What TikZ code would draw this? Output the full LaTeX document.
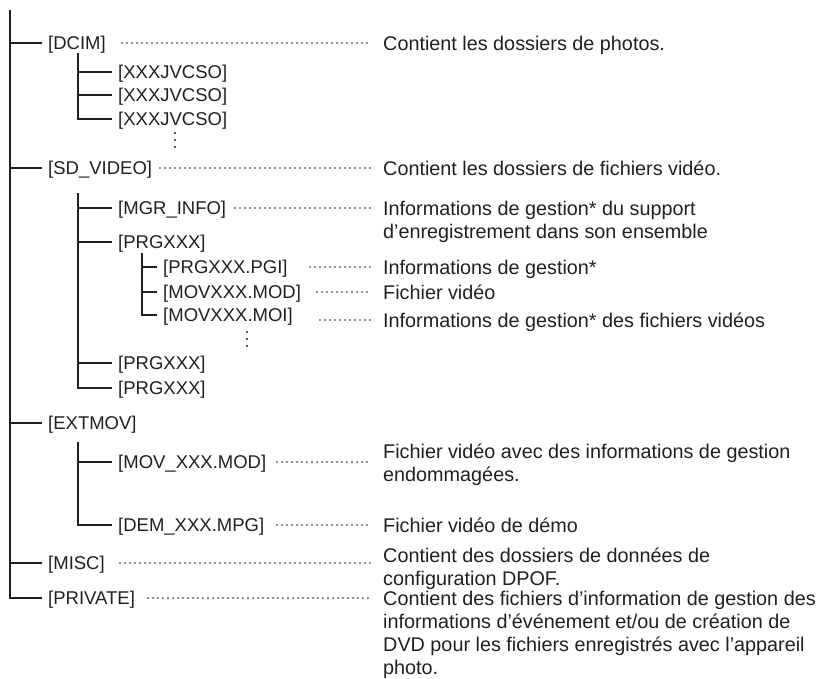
\documentclass[tikz,border=0pt]{standalone}
\usepackage{fontspec}
\setmainfont{Liberation Sans}
\definecolor{ink}{HTML}{231F20}
\begin{document}
\begin{tikzpicture}[x=1pt,y=-1pt,
  tree/.style={draw=ink, line width=2pt},
  lbl/.style={anchor=west, inner xsep=6pt, inner ysep=0pt, text height=13.2pt, text depth=0pt,
              font=\fontsize{18.5}{22}\selectfont, text=ink},
  desc/.style={anchor=base west, inner sep=0pt, align=left,
              font=\fontsize{19.8}{23}\selectfont, text=ink},
  leader/.style={draw=ink, line width=1.6pt, line cap=round, dash pattern=on 0pt off 5pt},
  vdot/.style={circle, fill=ink, inner sep=0pt, minimum size=2.2pt}]
\useasboundingbox (0,0) rectangle (821,678);

% ---- level 1 labels
\coordinate (root) at (10,10);
\node[lbl] (dcim)    at (42,43)  {[DCIM]};
\node[lbl] (sdvideo) at (42,168) {[SD\_VIDEO]};
\node[lbl] (extmov)  at (42,423) {[EXTMOV]};
\node[lbl] (misc)    at (42,563) {[MISC]};
\node[lbl] (private) at (42,598) {[PRIVATE]};

% ---- DCIM children
\coordinate (dtop) at (78,53);
\node[lbl] (jvc1) at (112,72)  {[XXXJVCSO]};
\node[lbl] (jvc2) at (112,95)  {[XXXJVCSO]};
\node[lbl] (jvc3) at (112,119) {[XXXJVCSO]};
\node[vdot] (dv1) at (175,133) {};
\node[vdot] (dv2) at (175,140) {};
\node[vdot] (dv3) at (175,147) {};

% ---- SD_VIDEO children
\coordinate (stop) at (78,193);
\node[lbl] (mgr)  at (112,208) {[MGR\_INFO]};
\node[lbl] (prg1) at (112,242) {[PRGXXX]};
\coordinate (ptop) at (142,253);
\node[lbl] (pgi) at (157,267) {[PRGXXX.PGI]};
\node[lbl] (mod) at (157,292) {[MOVXXX.MOD]};
\node[lbl] (moi) at (157,315) {[MOVXXX.MOI]};
\node[vdot] (pv1) at (247,332) {};
\node[vdot] (pv2) at (247,339) {};
\node[vdot] (pv3) at (247,346) {};
\node[lbl] (prg2) at (112,363) {[PRGXXX]};
\node[lbl] (prg3) at (112,388) {[PRGXXX]};

% ---- EXTMOV children
\coordinate (etop) at (78,442);
\node[lbl] (movx) at (112,462) {[MOV\_XXX.MOD]};
\node[lbl] (dem)  at (112,525) {[DEM\_XXX.MPG]};

% ---- tree lines
\draw[tree] (root) |- (private.west);
\foreach \n in {dcim,sdvideo,extmov,misc}{\draw[tree] (root |- \n.west) -- (\n.west);}
\draw[tree] (dtop) |- (jvc3.west);
\foreach \n in {jvc1,jvc2}{\draw[tree] (dtop |- \n.west) -- (\n.west);}
\draw[tree] (stop) |- (prg3.west);
\foreach \n in {mgr,prg1,prg2}{\draw[tree] (stop |- \n.west) -- (\n.west);}
\draw[tree] (ptop) |- (moi.west);
\foreach \n in {pgi,mod}{\draw[tree] (ptop |- \n.west) -- (\n.west);}
\draw[tree] (etop) |- (dem.west);
\draw[tree] (etop |- movx.west) -- (movx.west);

% ---- descriptions (base = baseline of the last line)
\node[desc] (dcimd) at (383,50)  {Contient les dossiers de photos.};
\node[desc] (sdd)   at (383,175) {Contient les dossiers de fichiers vidéo.};
\node[desc] (mgrd)  at (383,238) {Informations de gestion* du support\\d’enregistrement dans son ensemble};
\node[desc] (pgid)  at (383,274) {Informations de gestion*};
\node[desc] (modd)  at (383,299) {Fichier vidéo};
\node[desc] (moid)  at (383,327) {Informations de gestion* des fichiers vidéos};
\node[desc] (movxd) at (383,481) {Fichier vidéo avec des informations de gestion\\endommagées.};
\node[desc] (demd)  at (383,532) {Fichier vidéo de démo};
\node[desc] (miscd) at (383,585) {Contient des dossiers de données de\\configuration DPOF.};
\node[desc] (privd) at (383,674) {Contient des fichiers d’information de gestion des\\informations d’événement et/ou de création de\\DVD pour les fichiers enregistrés avec l’appareil\\photo.};

% ---- leaders
\draw[leader] (122,0 |- dcim.west)    -- (370,0 |- dcim.west);
\draw[leader] (160,0 |- sdvideo.west) -- (370,0 |- sdvideo.west);
\draw[leader] (235,0 |- mgr.west)     -- (370,0 |- mgr.west);
\draw[leader] (310,0 |- pgi.west)     -- (370,0 |- pgi.west);
\draw[leader] (317,0 |- mod.west)     -- (370,0 |- mod.west);
\draw[leader] (320,320)               -- (370,320);
\draw[leader] (277,0 |- movx.west)    -- (370,0 |- movx.west);
\draw[leader] (277,0 |- dem.west)     -- (370,0 |- dem.west);
\draw[leader] (120,0 |- misc.west)    -- (370,0 |- misc.west);
\draw[leader] (148,0 |- private.west) -- (370,0 |- private.west);
\end{tikzpicture}
\end{document}
